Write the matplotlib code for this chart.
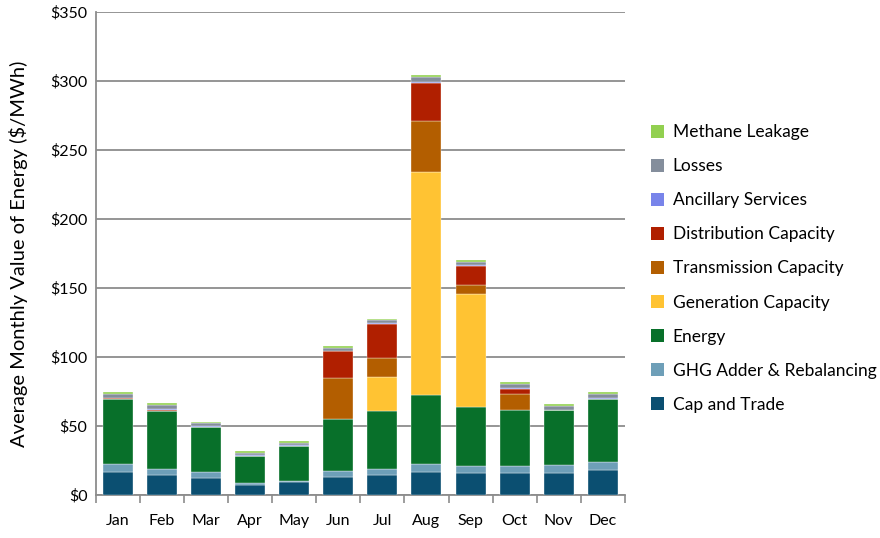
import matplotlib
matplotlib.use("Agg")
import matplotlib.pyplot as plt
import numpy as np
from matplotlib.ticker import FuncFormatter, MultipleLocator

plt.rcParams['font.family'] = ['Lato', 'DejaVu Sans']

months = ["Jan", "Feb", "Mar", "Apr", "May", "Jun", "Jul", "Aug", "Sep", "Oct", "Nov", "Dec"]

cap_and_trade = [16.9, 14.3, 12.6, 7.5, 9.2, 13.3, 14.3, 16.7, 16.2, 16.2, 16.2, 18.1]
ghg_adder = [5.6, 4.5, 3.8, 1.0, 1.2, 4.3, 4.5, 5.8, 4.6, 4.8, 5.5, 5.6]
energy = [47.1, 42.1, 32.9, 20.0, 25.3, 37.2, 42.2, 50.0, 43.0, 40.8, 39.9, 45.9]
generation = [0, 0, 0, 0, 0, 0, 24.5, 161.3, 82.1, 0, 0, 0]
transmission = [0, 0, 0, 0, 0, 29.7, 13.5, 37.0, 6.3, 11.2, 0, 0]
distribution = [0.4, 0.9, 0, 0, 0, 19.8, 25.1, 27.5, 14.0, 4.0, 0, 0]
ancillary = [0.3, 0.3, 0.3, 0.3, 0.3, 0.3, 0.3, 0.7, 0.3, 0.3, 0.3, 0.3]
losses = [3.2, 3.0, 2.5, 1.8, 1.6, 2.1, 2.4, 4.0, 2.3, 3.1, 2.8, 3.2]
methane = [1.4, 1.2, 0.9, 0.9, 1.2, 1.5, 1.0, 1.0, 1.2, 1.5, 1.2, 1.4]

series = [
    ("Cap and Trade", cap_and_trade, "#0B4F71"),
    ("GHG Adder & Rebalancing", ghg_adder, "#6E9FB8"),
    ("Energy", energy, "#08702A"),
    ("Generation Capacity", generation, "#FFC333"),
    ("Transmission Capacity", transmission, "#B35E00"),
    ("Distribution Capacity", distribution, "#B01F00"),
    ("Ancillary Services", ancillary, "#7884EA"),
    ("Losses", losses, "#848E9C"),
    ("Methane Leakage", methane, "#92D050"),
]

fig = plt.figure(figsize=(8.8, 5.38), dpi=100)
ax = fig.add_axes([0.109, 0.080, 0.601, 0.898])

x = np.arange(len(months))
bottom = np.zeros(len(months))
handles = []
for name, vals, color in series:
    v = np.array(vals, dtype=float)
    b = ax.bar(x, v, width=0.68, bottom=bottom, color=color, label=name,
               edgecolor="white", linewidth=0.25, zorder=3)
    handles.append(b)
    bottom += v

ax.set_xlim(-0.5, 11.5)
ax.set_ylim(0, 350)
ax.yaxis.set_major_locator(MultipleLocator(50))
ax.yaxis.set_major_formatter(FuncFormatter(lambda v, p: f"${int(v)}"))
ax.grid(axis="y", color="#8c8c8c", linewidth=1.3, zorder=0)
ax.set_axisbelow(True)

ax.set_xticks(x)
ax.set_xticklabels(months)
ax.set_xticks(np.arange(-0.5, 12, 1), minor=True)
ax.tick_params(axis="x", which="major", length=0, pad=14, labelsize=11.5)
ax.tick_params(axis="x", which="minor", length=6, color="#8c8c8c", width=1.2)
ax.tick_params(axis="y", length=0, pad=6, labelsize=11.5)

for s in ["top", "right"]:
    ax.spines[s].set_visible(False)
ax.spines["left"].set_color("#8c8c8c")
ax.spines["left"].set_linewidth(1.3)
ax.spines["bottom"].set_color("#8c8c8c")
ax.spines["bottom"].set_linewidth(1.3)

ax.set_ylabel("Average Monthly Value of Energy ($/MWh)", fontsize=14.5, labelpad=16)

leg = fig.legend(handles[::-1], [s[0] for s in series][::-1], loc="center left",
                 bbox_to_anchor=(0.722, 0.501), frameon=False, fontsize=12.5,
                 handlelength=0.75, handleheight=0.75, handletextpad=0.5,
                 labelspacing=1.04)
for h in leg.legend_handles:
    h.set_edgecolor("none")

fig.savefig("out.png", dpi=100)
